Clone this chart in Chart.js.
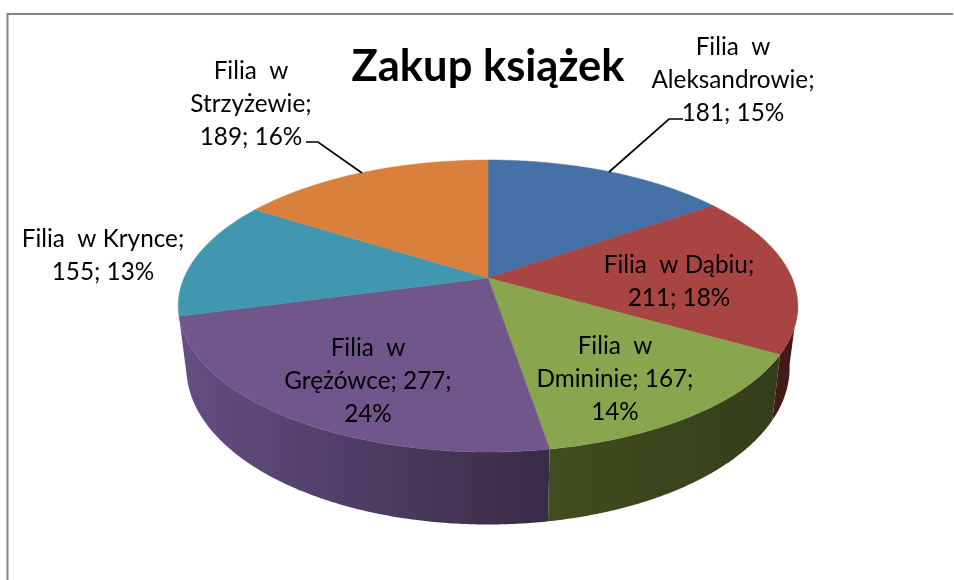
<!DOCTYPE html>
<html><head><meta charset="utf-8">
<style>html,body{margin:0;padding:0;background:#fff}canvas{display:block}</style>
<script src="https://cdn.jsdelivr.net/npm/chart.js@4"></script>
</head><body><canvas id="c" width="954" height="580"></canvas>
<script>
const chartTitle = 'Zakup książek';
const categories = ['Filia w Aleksandrowie','Filia w Dąbiu','Filia w Dmininie','Filia w Grężówce','Filia w Krynce','Filia w Strzyżewie'];
const values = [181,211,167,277,155,189];
const percents = [15,18,14,24,13,16];
const topColors = ['#4671a6','#a84442','#89a54e','#71568c','#4197af','#d9803c'];
const sideStart = ['#4671a6','#4c1d1b','#353e1b','#382b46','#4197af','#d9803c'];
const sideEnd = ['#4671a6','#431a18','#414c1f','#664e82','#4197af','#d9803c'];
const labelLines = [
  ['Filia  w','Aleksandrowie;','181; 15%'],
  ['Filia  w Dąbiu;','211; 18%'],
  ['Filia  w','Dmininie; 167;','14%'],
  ['Filia  w','Grężówce; 277;','24%'],
  ['Filia  w Krynce;','155; 13%'],
  ['Filia  w','Strzyżewie;','189; 16%']
];
const LABEL_FONT = '24.3px Lato';
const labelPos = [[733,47],[679,265],[615,346],[368,348],[103,239],[251,71]];
const LINE_H = 33;
const leaders = [[[683,119],[669,119],[609,172]],[[306,142],[318,142],[362,173]]];
const CX = 488, P = 0.1918;
const TOP = {a:304, b:140.6, y0:278};
const BOT = {a:296, b:150.7, y0:338};
function proj(f, th){
  const X = Math.sin(th), Y = -Math.cos(th), d = 1 - P*Y;
  return [CX + f.a*X/d, f.y0 + f.b*Y/d];
}
const pie3d = {
  id:'pie3d',
  beforeDraw(chart){
    const c = chart.ctx;
    c.save();
    c.fillStyle='#fff'; c.fillRect(0,0,954,580);
    c.strokeStyle='#868686'; c.lineWidth=2;
    c.beginPath(); c.moveTo(7.5,580); c.lineTo(7.5,14); c.lineTo(953,14); c.stroke();
    c.restore();
  },
  beforeDatasetsDraw(chart){
    const c = chart.ctx, arcs = chart.getDatasetMeta(0).data;
    const lo = Math.PI*100/180, hi = Math.PI*255/180, step = Math.PI/360;
    c.save();
    arcs.forEach((arc,i)=>{
      const s = arc.startAngle+Math.PI/2, e = arc.endAngle+Math.PI/2;
      const a = Math.max(s,lo), b = Math.min(e,hi);
      if(b<=a) return;
      const ps = proj(TOP,s), pe = proj(TOP,e);
      const g = c.createLinearGradient(ps[0],0,pe[0],0);
      g.addColorStop(0,sideStart[i]); g.addColorStop(1,sideEnd[i]);
      c.beginPath();
      c.moveTo(...proj(TOP,a));
      for(let t=a;t<b;t+=step) c.lineTo(...proj(TOP,t));
      c.lineTo(...proj(TOP,b));
      c.lineTo(...proj(BOT,b));
      for(let t=b;t>a;t-=step) c.lineTo(...proj(BOT,t));
      c.lineTo(...proj(BOT,a));
      c.closePath();
      c.fillStyle=g; c.fill();
    });
    arcs.forEach((arc,i)=>{
      const s = arc.startAngle+Math.PI/2, e = arc.endAngle+Math.PI/2;
      c.beginPath(); c.moveTo(CX,TOP.y0);
      for(let t=s;t<e;t+=step) c.lineTo(...proj(TOP,t));
      c.lineTo(...proj(TOP,e)); c.closePath();
      c.fillStyle=topColors[i]; c.strokeStyle=topColors[i]; c.lineWidth=0.5;
      c.fill(); c.stroke();
    });
    c.restore();
    return false;
  },
  afterDraw(chart){
    const c = chart.ctx;
    c.save();
    c.strokeStyle='#000'; c.lineWidth=1.7;
    leaders.forEach(l=>{c.beginPath(); l.forEach((p,j)=>j?c.lineTo(...p):c.moveTo(...p)); c.stroke();});
    c.fillStyle='#000'; c.font=LABEL_FONT; c.textAlign='center'; c.textBaseline='middle';
    labelLines.forEach((lines,i)=>lines.forEach((t,j)=>c.fillText(t,labelPos[i][0],labelPos[i][1]+j*LINE_H)));
    c.restore();
  }
};
new Chart(document.getElementById('c'),{
  type:'pie',
  data:{labels:categories,datasets:[{data:values,backgroundColor:topColors,borderWidth:0,percent:percents}]},
  options:{
    responsive:false,animation:false,
    layout:{padding:{left:22,top:0}},
    plugins:{
      legend:{display:false},tooltip:{enabled:false},
      title:{display:true,text:chartTitle,fullSize:false,color:'#000',font:{family:'Lato',size:43.5,weight:'bold'},padding:{top:41,bottom:0}}
    }
  },
  plugins:[pie3d]
});
</script></body></html>
